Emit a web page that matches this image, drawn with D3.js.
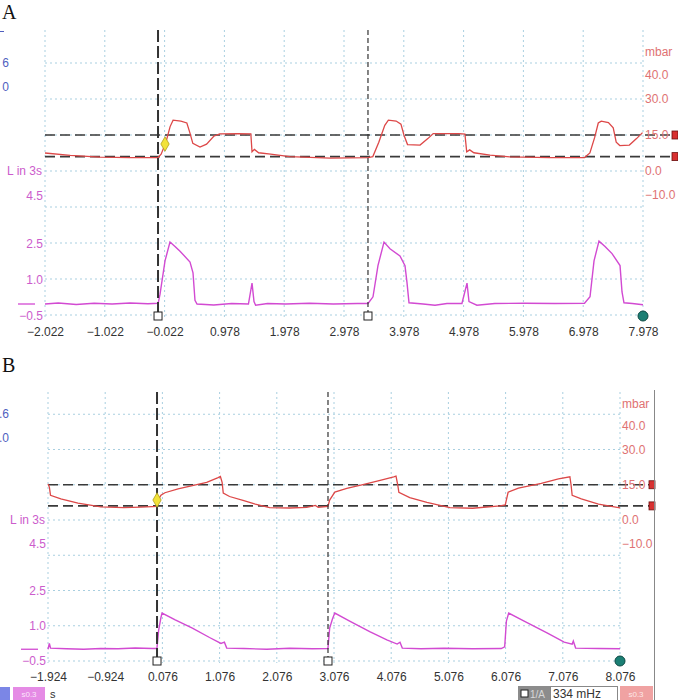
<!DOCTYPE html>
<html>
<head>
<meta charset="utf-8">
<script src="https://cdn.jsdelivr.net/npm/d3@7"></script>
<style>
  body { margin: 0; background: #fff; }
  svg { display: block; font-family: "Liberation Sans", Arial, sans-serif; }
</style>
</head>
<body>
<svg id="chart" width="678" height="700"></svg>
<script>
// ---- data ----
var timeTicksA = [-2.022, -1.022, -0.022, 0.978, 1.978, 2.978, 3.978, 4.978, 5.978, 6.978, 7.978];
var timeTicksB = [-1.924, -0.924, 0.076, 1.076, 2.076, 3.076, 4.076, 5.076, 6.076, 7.076, 8.076];
var pressureTicks = [40, 30, 15, 0, -10];
var flowTicks = [4.5, 2.5, 1.0, -0.5];
var gridLevels = [45, 30, 15, 0, -15, -30, -45, -60];
var alarmLevels = [15, 6];

var cursorsA = [-0.132, 3.379];
var cursorsB = [-0.018, 2.971];
var diamondA = [-0.015, 11.25];
var diamondB = [-0.018, 8.5];

// pressure (mbar) vs time (s)
var pressureA = [[-2.022, 7.5], [-1.6, 6.5], [-1.102, 5.8], [-0.6, 5.6], [-0.132, 5.6], [-0.08, 7.0], [0.0, 12],
  [0.07, 18.5], [0.12, 21.2], [0.25, 20.8], [0.35, 20.0], [0.40, 16], [0.45, 11.5], [0.57, 10.0], [0.68, 11.2],
  [0.80, 14.5], [0.90, 15.5], [1.2, 15.6], [1.42, 15.5], [1.44, 8.0], [1.48, 9.0], [1.55, 7.6], [1.75, 7.0],
  [2.07, 6.0], [2.75, 5.4], [3.38, 5.6], [3.46, 6.0], [3.56, 12], [3.66, 19], [3.72, 21.2], [3.85, 20.8],
  [3.93, 19.5], [3.98, 15], [4.04, 11.0], [4.25, 10.8], [4.38, 13.5], [4.47, 15.6], [4.9, 15.6], [5.0, 15.4],
  [5.03, 8.0], [5.08, 8.8], [5.15, 7.6], [5.42, 6.6], [5.75, 5.9], [6.42, 5.6], [7.0, 5.6], [7.09, 7.5],
  [7.17, 14], [7.23, 20.0], [7.28, 20.8], [7.40, 20.2], [7.48, 18], [7.53, 12], [7.59, 10.6], [7.75, 10.8],
  [7.87, 13.5], [7.97, 16.0]];

var pressureB = [[-1.924, 15.3], [-1.90, 14.0], [-1.88, 10.5], [-1.7, 9.0], [-1.4, 7.2], [-1.0, 5.6], [-0.6, 5.3],
  [-0.3, 5.5], [-0.02, 5.8], [0.0, 8.5], [0.05, 10.5], [0.12, 11.6], [0.35, 13.2], [0.6, 14.6], [0.85, 16.0],
  [1.05, 18.0], [1.09, 18.5], [1.12, 16], [1.14, 11.5], [1.25, 10.0], [1.5, 8.2], [1.7, 6.8], [1.95, 5.3],
  [2.3, 5.1], [2.6, 5.4], [2.75, 6.2], [2.8, 5.4], [2.97, 5.8], [3.0, 8.5], [3.09, 11.9], [3.3, 13.5],
  [3.6, 15.2], [3.9, 17.0], [4.12, 18.4], [4.16, 18.7], [4.19, 15], [4.21, 11.8], [4.4, 9.5], [4.7, 7.5],
  [5.1, 5.3], [5.5, 5.0], [5.98, 6.0], [6.07, 6.4], [6.12, 11.8], [6.3, 13.6], [6.7, 15.6], [7.0, 17.5],
  [7.2, 18.4], [7.22, 15], [7.24, 10.5], [7.4, 9.0], [7.7, 6.8], [8.076, 5.2]];

// flow (L in 3s) vs time (s)
var flowA = [[-2.022, 0.0], [-1.8, 0.04], [-1.5, -0.02], [-1.2, 0.03], [-0.9, 0.0], [-0.6, 0.04], [-0.3, 0.01],
  [-0.13, 0.03], [-0.099, 0.4], [-0.015, 1.8], [0.068, 2.58], [0.152, 2.4], [0.236, 2.2], [0.403, 1.75],
  [0.453, 1.3], [0.486, 0.15], [0.52, 0.0], [0.8, -0.04], [1.1, 0.02], [1.38, 0.0], [1.44, 0.87], [1.473, 0.1],
  [1.5, -0.05], [1.7, 0.02], [2.0, 0.0], [2.4, 0.03], [2.8, 0.0], [3.2, 0.02], [3.38, 0.02], [3.463, 0.3],
  [3.546, 1.6], [3.647, 2.58], [3.747, 2.3], [3.914, 2.0], [3.998, 1.6], [4.031, 0.9], [4.065, 0.05],
  [4.3, 0.0], [4.5, -0.05], [4.7, 0.02], [4.95, 0.02], [5.035, 0.87], [5.068, 0.1], [5.2, -0.05], [5.5, 0.02],
  [6.0, 0.03], [6.5, 0.02], [7.0, 0.03], [7.092, 0.3], [7.159, 1.8], [7.242, 2.62], [7.343, 2.4], [7.46, 2.1],
  [7.594, 1.6], [7.627, 0.5], [7.66, 0.05], [7.8, 0.02], [7.978, -0.03]];

var flowB = [[-1.924, 0.0], [-1.90, 0.25], [-1.88, 0.05], [-1.6, 0.02], [-1.3, 0.0], [-1.0, 0.03], [-0.7, 0.02],
  [-0.4, 0.05], [-0.1, 0.03], [-0.02, 0.03], [0.01, 0.8], [0.05, 1.35], [0.07, 1.54], [0.3, 1.25], [0.6, 0.9],
  [0.9, 0.5], [1.1, 0.25], [1.16, 0.3], [1.2, 0.05], [1.5, 0.03], [1.9, 0.0], [2.3, 0.04], [2.7, 0.02],
  [2.97, 0.03], [3.0, 0.9], [3.05, 1.3], [3.09, 1.54], [3.35, 1.2], [3.7, 0.75], [4.0, 0.4], [4.18, 0.22],
  [4.23, 0.3], [4.27, 0.05], [4.6, 0.02], [5.0, 0.04], [5.5, 0.02], [6.0, 0.03], [6.06, 0.1], [6.09, 1.2],
  [6.13, 1.54], [6.4, 1.2], [6.8, 0.7], [7.1, 0.3], [7.24, 0.22], [7.26, 0.35], [7.3, 0.05], [7.7, 0.03],
  [8.076, 0.02]];

var svg = d3.select("#chart");

var redLine = "#dd4848", redText = "#e07272", magenta = "#d24ad2", magText = "#cc5ccc", gridCol = "#a9cfe0";

function drawPanel(p) {
    var g = svg.append("g");

    var x = d3.scaleLinear().domain([p.ticks[0], p.ticks[p.ticks.length - 1]]).range([p.left, p.right]);
    var yP = d3.scaleLinear().domain([-60, 60]).range([p.pBottom, p.pTop]);
    var yF = d3.scaleLinear().domain([-0.5, 4.5]).range([p.fBottom, p.fTop]);

    // panel letter
    g.append("text").attr("x", 2).attr("y", p.letterY)
        .attr("font-family", "Liberation Serif, serif").attr("font-size", 20).attr("fill", "#111")
        .text(p.letter);

    // grid
    g.selectAll(".vgrid").data(p.ticks).enter().append("line")
        .attr("x1", function (d) { return x(d); }).attr("x2", function (d) { return x(d); })
        .attr("y1", p.gridTop).attr("y2", yF(-0.5) + 2)
        .attr("stroke", gridCol).attr("stroke-width", 1).attr("stroke-dasharray", "2,3");
    g.selectAll(".hgrid").data(gridLevels).enter().append("line")
        .attr("x1", p.left).attr("x2", p.right)
        .attr("y1", function (d) { return yP(d); }).attr("y2", function (d) { return yP(d); })
        .attr("stroke", gridCol).attr("stroke-width", 1).attr("stroke-dasharray", "2,3");

    // alarm / level lines
    g.selectAll(".alarm").data(alarmLevels).enter().append("line")
        .attr("x1", p.left).attr("x2", p.right + 30)
        .attr("y1", function (d) { return yP(d); }).attr("y2", function (d) { return yP(d); })
        .attr("stroke", "#3a3a3a").attr("stroke-width", 1.6).attr("stroke-dasharray", "10,5");
    g.selectAll(".alarmMark").data(alarmLevels).enter().append("rect")
        .attr("x", p.right + 29).attr("y", function (d) { return yP(d) - 4; })
        .attr("width", 6).attr("height", 8)
        .attr("fill", "#d83030").attr("stroke", "#6a1010").attr("stroke-width", 0.8);

    // axes
    var ax = g.append("g").attr("transform", "translate(0," + (yF(-0.5) + 2) + ")")
        .call(d3.axisBottom(x).tickValues(p.ticks).tickSize(0).tickPadding(9).tickFormat(d3.format(".3f")));
    ax.select(".domain").remove();
    ax.selectAll("text").attr("font-size", 12).attr("fill", "#333").attr("font-family", "Liberation Sans, Arial, sans-serif");

    var ar = g.append("g").attr("transform", "translate(" + p.right + ",0)")
        .call(d3.axisRight(yP).tickValues(pressureTicks).tickSize(0).tickPadding(2).tickFormat(d3.format(".1f")));
    ar.select(".domain").remove();
    ar.selectAll("text").attr("font-size", 12).attr("fill", redText).attr("font-family", "Liberation Sans, Arial, sans-serif");
    g.append("text").attr("x", p.right + 2).attr("y", yP(49.5)).attr("dy", "0.32em")
        .attr("font-size", 12).attr("fill", redText).text("mbar");

    var al = g.append("g").attr("transform", "translate(" + p.left + ",0)")
        .call(d3.axisLeft(yF).tickValues(flowTicks).tickSize(0).tickPadding(2).tickFormat(d3.format(".1f")));
    al.select(".domain").remove();
    al.selectAll("text").attr("font-size", 12).attr("fill", magText).attr("font-family", "Liberation Sans, Arial, sans-serif");
    g.append("text").attr("x", p.left - 3).attr("y", yP(0)).attr("dy", "0.32em")
        .attr("text-anchor", "end").attr("font-size", 12).attr("fill", magText).text("L in 3s");
    g.append("line").attr("x1", p.left - 27).attr("x2", p.left - 10)
        .attr("y1", yF(0)).attr("y2", yF(0)).attr("stroke", magenta).attr("stroke-width", 1.3);

    // cut-off blue labels at far left
    g.selectAll(".blue").data(p.blue).enter().append("text")
        .attr("x", 9).attr("y", function (d, i) { return yP(45 - i * 10); }).attr("dy", "0.32em")
        .attr("text-anchor", "end").attr("font-size", 12).attr("fill", "#4f5fbf")
        .text(function (d) { return d; });

    // traces
    var lineP = d3.line().x(function (d) { return x(d[0]); }).y(function (d) { return yP(d[1]); });
    var lineF = d3.line().x(function (d) { return x(d[0]); }).y(function (d) { return yF(d[1]); });
    g.append("path").datum(p.pressure).attr("d", lineP)
        .attr("fill", "none").attr("stroke", redLine).attr("stroke-width", 1.3);
    g.append("path").datum(p.flow).attr("d", lineF)
        .attr("fill", "none").attr("stroke", magenta).attr("stroke-width", 1.4);

    // cursors
    g.append("line").attr("x1", x(p.cursors[0])).attr("x2", x(p.cursors[0]))
        .attr("y1", p.gridTop).attr("y2", yF(-0.5))
        .attr("stroke", "#333").attr("stroke-width", 2).attr("stroke-dasharray", "12,4");
    g.append("line").attr("x1", x(p.cursors[1])).attr("x2", x(p.cursors[1]))
        .attr("y1", p.gridTop).attr("y2", yF(-0.5))
        .attr("stroke", "#333").attr("stroke-width", 1.2).attr("stroke-dasharray", "5,3");
    g.selectAll(".cmark").data(p.cursors).enter().append("rect")
        .attr("x", function (d) { return x(d) - 4; }).attr("y", yF(-0.5) - 4)
        .attr("width", 8).attr("height", 8)
        .attr("fill", "#fff").attr("stroke", "#222").attr("stroke-width", 1);

    // yellow diamond marker
    g.append("path").attr("d", d3.symbol().type(d3.symbolDiamond).size(60))
        .attr("transform", "translate(" + x(p.diamond[0]) + "," + yP(p.diamond[1]) + ")")
        .attr("fill", "#f2e23a").attr("stroke", "#b0a020").attr("stroke-width", 0.8);

    // teal end dot
    g.append("circle").attr("cx", x(p.ticks[p.ticks.length - 1])).attr("cy", yF(-0.5))
        .attr("r", 5).attr("fill", "#1b7f74").attr("stroke", "#0d4a44").attr("stroke-width", 1);
}

drawPanel({
    letter: "A", letterY: 19, ticks: timeTicksA, left: 45, right: 643,
    pTop: 27, pBottom: 315, fTop: 196, fBottom: 316, gridTop: 30,
    pressure: pressureA, flow: flowA, cursors: cursorsA, diamond: diamondA, blue: ["6", "0"]
});

drawPanel({
    letter: "B", letterY: 372, ticks: timeTicksB, left: 48, right: 620,
    pTop: 379, pBottom: 661, fTop: 543.5, fBottom: 661, gridTop: 392,
    pressure: pressureB, flow: flowB, cursors: cursorsB, diamond: diamondB, blue: [".6", ".0"]
});

// small blue tick at the top left of panel A
svg.append("line").attr("x1", 0).attr("x2", 4).attr("y1", 31.5).attr("y2", 31.5)
    .attr("stroke", "#4f5fbf").attr("stroke-width", 1);

// right border of panel B
svg.append("line").attr("x1", 654.5).attr("x2", 654.5).attr("y1", 390).attr("y2", 700)
    .attr("stroke", "#888").attr("stroke-width", 1);

// status bar at the bottom
var bar = svg.append("g").attr("font-size", 10);
bar.append("rect").attr("x", 0).attr("y", 687).attr("width", 10).attr("height", 13).attr("fill", "#7b86e6");
bar.append("rect").attr("x", 13).attr("y", 687).attr("width", 32).attr("height", 13).attr("fill", "#e58be5");
bar.append("text").attr("x", 29).attr("y", 697).attr("text-anchor", "middle").attr("fill", "#fbe6fb").attr("font-size", 8).text("s0.3");
bar.append("text").attr("x", 50).attr("y", 698).attr("fill", "#333").attr("font-size", 11).text("s");

bar.append("rect").attr("x", 518).attr("y", 686).attr("width", 32).attr("height", 14).attr("fill", "#8c8c8c");
bar.append("rect").attr("x", 521).attr("y", 690).attr("width", 7).attr("height", 7).attr("fill", "#fff").attr("stroke", "#222");
bar.append("text").attr("x", 530).attr("y", 698).attr("fill", "#d8d8d8").attr("font-size", 10).text("1/A");
bar.append("rect").attr("x", 550.5).attr("y", 686.5).attr("width", 67).attr("height", 14).attr("fill", "#fff").attr("stroke", "#888");
bar.append("text").attr("x", 553).attr("y", 698).attr("fill", "#333").attr("font-size", 12).text("334 mHz");
bar.append("rect").attr("x", 620).attr("y", 686).attr("width", 33).attr("height", 14).attr("fill", "#f0a2a2");
bar.append("text").attr("x", 636).attr("y", 697).attr("text-anchor", "middle").attr("fill", "#fde8e8").attr("font-size", 8).text("s0.3");
</script>
</body>
</html>
